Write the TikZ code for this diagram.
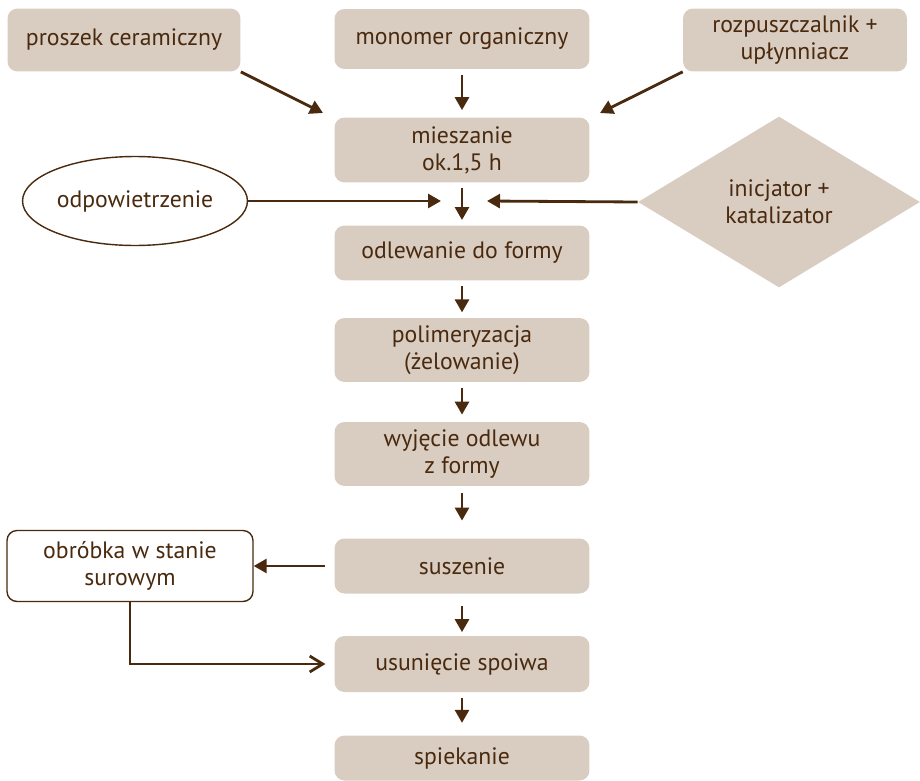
\documentclass[tikz,border=0pt]{standalone}
\usepackage{fontspec}
\setmainfont{PT Sans}
\usetikzlibrary{arrows.meta,positioning,shapes.geometric,calc}
\definecolor{beige}{HTML}{D9CCC1}
\definecolor{brown}{HTML}{4A2A0E}
\tikzset{
  box/.style={fill=beige, rounded corners=2mm, align=center, text=brown, minimum width=5.1cm, inner sep=1mm, font=\fontsize{13.5}{15.5}\selectfont},
  sidebox/.style={box, minimum height=1.26cm},
  ovalbox/.style={ellipse, draw=brown, line width=0.8pt, fill=white, text=brown, inner sep=0pt, minimum width=4.5cm, minimum height=1.78cm, font=\fontsize{13.5}{15.5}\selectfont},
  rhombbox/.style={diamond, fill=beige, text=brown, align=center, minimum width=5.64cm, minimum height=3.42cm, inner sep=0pt, font=\fontsize{13.5}{15.5}\selectfont},
  whitebox/.style={box, fill=white, draw=brown, line width=0.8pt},
  arrow/.style={-{Triangle[length=2.6mm,width=2.8mm]}, line width=1.6pt, draw=brown},
  openarrow/.style={-{Straight Barb[length=2.6mm,width=3.2mm]}, line width=1.6pt, draw=brown}
}

\begin{document}
\begin{tikzpicture}[x=0.02cm, y=-0.02cm]
  \useasboundingbox (0,0) rectangle (920,781);
  % inputs
  \node[sidebox, minimum width=4.66cm] (powder) at (124,40) {proszek ceramiczny};
  \node[box, minimum height=1.2cm] (monomer) at (462,39) {monomer organiczny};
  \node[sidebox, minimum width=4.48cm] (solvent) at (795,40) {rozpuszczalnik +\\upłynniacz};
  % main line
  \node[box, minimum height=1.3cm] (mixing) at (462,150) {mieszanie\\ok.1,5 h};
  \node[box, minimum height=1.1cm] (casting) at (462,253) {odlewanie do formy};
  \node[box, minimum height=1.28cm] (polymer) at (462,350) {polimeryzacja\\(żelowanie)};
  \node[box, minimum height=1.28cm] (demould) at (462,454) {wyjęcie odlewu\\z formy};
  \node[box, minimum height=1.1cm] (drying) at (462,566) {suszenie};
  \node[box, minimum height=1.12cm] (binder) at (462,664) {usunięcie spoiwa};
  \node[box, minimum height=0.9cm] (sinter) at (462,758) {spiekanie};
  % side steps
  \node[ovalbox] (degas) at (135,201) {odpowietrzenie};
  \node[rhombbox] (init) at (779,202) {inicjator +\\katalizator};
  \node[whitebox, minimum width=4.92cm, minimum height=1.42cm] (green) at (130,566) {obróbka w stanie\\surowym};

  \coordinate (mixin) at (462,115);
  \coordinate (castin) at (462,220);
  \coordinate (degasend) at (441,201);
  \coordinate (initend) at (487,201);

  \draw[arrow] (powder.south east) -- ($(mixin)+(-139,-2)$);
  \draw[arrow] (solvent.south west) -- ($(mixin)+(138,-2)$);
  \draw[arrow] ([yshift=-3]monomer.south) -- ([yshift=4]mixing.north);
  \draw[arrow] ([yshift=-3]mixing.south) -- (castin);
  \draw[arrow] (degas.east) -- (degasend);
  \draw[arrow] (init.west) -- (initend);
  \draw[arrow] ([yshift=-3]casting.south) -- ([yshift=3]polymer.north);
  \draw[arrow] ([yshift=-3]polymer.south) -- ([yshift=4]demould.north);
  \draw[arrow] ([yshift=-4]demould.south) -- ([yshift=10]drying.north);
  \draw[arrow] ([xshift=-5]drying.west) -- (green.east);
  \draw[arrow] ([yshift=-7]drying.south) -- ([yshift=2]binder.north);
  \draw[arrow] ([yshift=-3]binder.south) -- ([yshift=7]sinter.north);
  \draw[openarrow] (green.south) |- ([xshift=-5]binder.west);
\end{tikzpicture}
\end{document}
